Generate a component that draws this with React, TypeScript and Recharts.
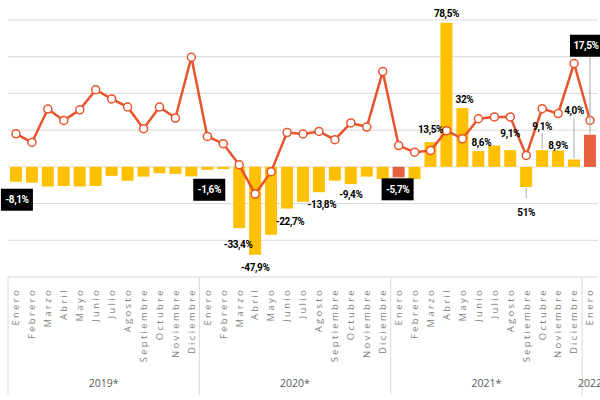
import React from "react";
import {
  ComposedChart,
  Bar,
  Line,
  XAxis,
  YAxis,
  CartesianGrid,
  Cell,
  LabelList,
} from "recharts";

const monthNames = [
  "Enero", "Febrero", "Marzo", "Abril", "Mayo", "Junio",
  "Julio", "Agosto", "Septiembre", "Octubre", "Noviembre", "Diciembre",
];
const months = [...monthNames, ...monthNames, ...monthNames, "Enero"];
const yearLabels = ["2019*", "2020*", "2021*", "2022"];
const yearStarts = [0, 12, 24, 36];

// variación interanual (%)
const barValues = [
  -8.1, -8.6, -10.7, -10.4, -10.7, -10.4, -4.9, -7.5, -5.3, -3.4, -3.8, -5.2,
  -1.6, -1.2, -33.4, -47.9, -37, -22.7, -19, -13.8, -7.5, -9.4, -5.3, -6.6,
  -5.7, -6.6, 13.5, 78.5, 32, 8.6, 11.6, 9.1, -11, 9.1, 8.9, 4.0, 17.5,
];
// serie de la línea (eje secundario, oculto)
const lineValues = [
  18, 13.3, 31.5, 25.3, 31.1, 42, 37, 32.6, 20.8, 32.6, 26.6, 59.7,
  16.6, 12.6, 1.1, -14.8, -2.6, 18.7, 17.9, 19.3, 14.8, 23.9, 21.7, 51.9,
  11.6, 8, 8.9, 19.7, 15.3, 26.2, 27.2, 27.2, 6.2, 31.7, 29, 56.3, 25.3,
];
const labelTexts = [
  "-8,1%", "", "", "", "", "", "", "", "", "", "", "",
  "-1,6%", "", "-33,4%", "-47,9%", "", "-22,7%", "", "-13,8%", "", "-9,4%", "", "",
  "-5,7%", "", "13,5%", "78,5%", "32%", "8,6%", "", "9,1%", "51%", "9,1%", "8,9%", "4,0%", "17,5%",
];
const redMonths = [24, 36];

const data = months.map((m, i) => ({
  key: `${m}-${i}`,
  bar: barValues[i],
  line: lineValues[i],
}));

// where each label sits relative to the end of its bar
const labelLayout: Record<number, { dy: number; dx?: number; box?: boolean; leader?: boolean }> = {
  0: { dy: 18, dx: 1, box: true },
  12: { dy: 20, dx: 2, box: true },
  14: { dy: 16, dx: -1 },
  15: { dy: 13 },
  17: { dy: 13, dx: 3 },
  19: { dy: 12, dx: 3 },
  21: { dy: 10 },
  24: { dy: 12, dx: -1, box: true },
  26: { dy: -13 },
  27: { dy: -9 },
  28: { dy: -9, dx: 2 },
  29: { dy: -9, dx: 3 },
  31: { dy: -17 },
  32: { dy: 25, leader: true },
  33: { dy: -24, leader: true },
  34: { dy: -5 },
  35: { dy: -49, leader: true },
  36: { dy: -89, dx: -4, box: true, leader: true },
};

const YELLOW = "#FFC000";
const RED = "#E8613F";
const LINE = "#E8532B";
const band = 590 / 37;

const BarLabel = (props: any) => {
  const { x, y, width, height, index } = props;
  const text = labelTexts[index];
  if (!text) return null;
  const lay = labelLayout[index] || { dy: -10 };
  const top = Math.min(y, y + height);
  const bottom = Math.max(y, y + height);
  const end = barValues[index] < 0 ? bottom : top;
  const cx = x + width / 2 + (lay.dx ?? 0);
  const cy = end + lay.dy;
  const half = lay.box ? 11 : 6;
  let leader = null;
  if (lay.leader) {
    const y1 = lay.dy > 0 ? end + 1 : cy + half + 1;
    const y2 = lay.dy > 0 ? cy - half - 8 : end - 1;
    leader = <line x1={x + width / 2} x2={x + width / 2} y1={y1} y2={y2} stroke="#a6a6a6" strokeWidth={1} />;
  }
  return (
    <g>
      {leader}
      {lay.box && <rect x={cx - 16} y={cy - half} width={32} height={half * 2} fill="#000" />}
      <text
        x={cx}
        y={cy}
        textAnchor="middle"
        dominantBaseline="central"
        fontFamily="Roboto, sans-serif"
        fontWeight={700}
        fontSize={10}
        letterSpacing={-0.4}
        fill={lay.box ? "#fff" : "#000"}
      >
        {text}
      </text>
    </g>
  );
};

const MonthTick = (props: any) => {
  const { x, y, payload } = props;
  const i = payload.index;
  const ty = y + 11;
  const yi = yearStarts.indexOf(i);
  let year = null;
  if (yi >= 0) {
    const n = (yearStarts[yi + 1] ?? months.length) - i;
    year = (
      <text
        x={x + ((n - 1) / 2) * band}
        y={y + 110}
        textAnchor="middle"
        fontFamily="Open Sans, sans-serif"
        fontSize={10.5}
        fill="#595959"
      >
        {yearLabels[yi]}
      </text>
    );
  }
  return (
    <g>
      <text
        x={x}
        y={ty}
        transform={`rotate(-90, ${x}, ${ty})`}
        textAnchor="end"
        dy="0.35em"
        fontFamily="Open Sans, sans-serif"
        fontSize={9.5}
        letterSpacing={2.3}
        fill="#7f7f7f"
      >
        {months[i]}
      </text>
      {yi >= 0 && (
        <line x1={x - band / 2} x2={x - band / 2} y1={y} y2={y + 118} stroke="#d9d9d9" />
      )}
      {year}
    </g>
  );
};

export default function App() {
  return (
    <div style={{ position: "absolute", left: 0, top: 0, background: "#fff" }}>
      <ComposedChart
        width={600}
        height={400}
        data={data}
        margin={{ top: 20, right: 2, left: 8, bottom: 0 }}
        barCategoryGap="12%"
      >
        <CartesianGrid yAxisId="left" vertical={false} stroke="#d9d9d9" />
        <XAxis
          dataKey="key"
          interval={0}
          height={123}
          tickSize={0}
          tickMargin={0}
          tickLine={false}
          axisLine={false}
          tick={<MonthTick />}
        />
        <YAxis
          yAxisId="left"
          hide
          domain={[-60, 80]}
          ticks={[-60, -40, -20, 0, 20, 40, 60, 80]}
        />
        <YAxis yAxisId="right" hide orientation="right" domain={[-60, 80]} />
        <Bar yAxisId="left" dataKey="bar" isAnimationActive={false}>
          {data.map((d, i) => (
            <Cell key={d.key} fill={redMonths.includes(i) ? RED : YELLOW} />
          ))}
          <LabelList dataKey="bar" content={<BarLabel />} />
        </Bar>
        <Line
          yAxisId="right"
          dataKey="line"
          type="linear"
          stroke={LINE}
          strokeWidth={2.5}
          dot={{ r: 4, fill: "#fff", stroke: LINE, strokeWidth: 1.5 }}
          isAnimationActive={false}
        />
      </ComposedChart>
    </div>
  );
}
